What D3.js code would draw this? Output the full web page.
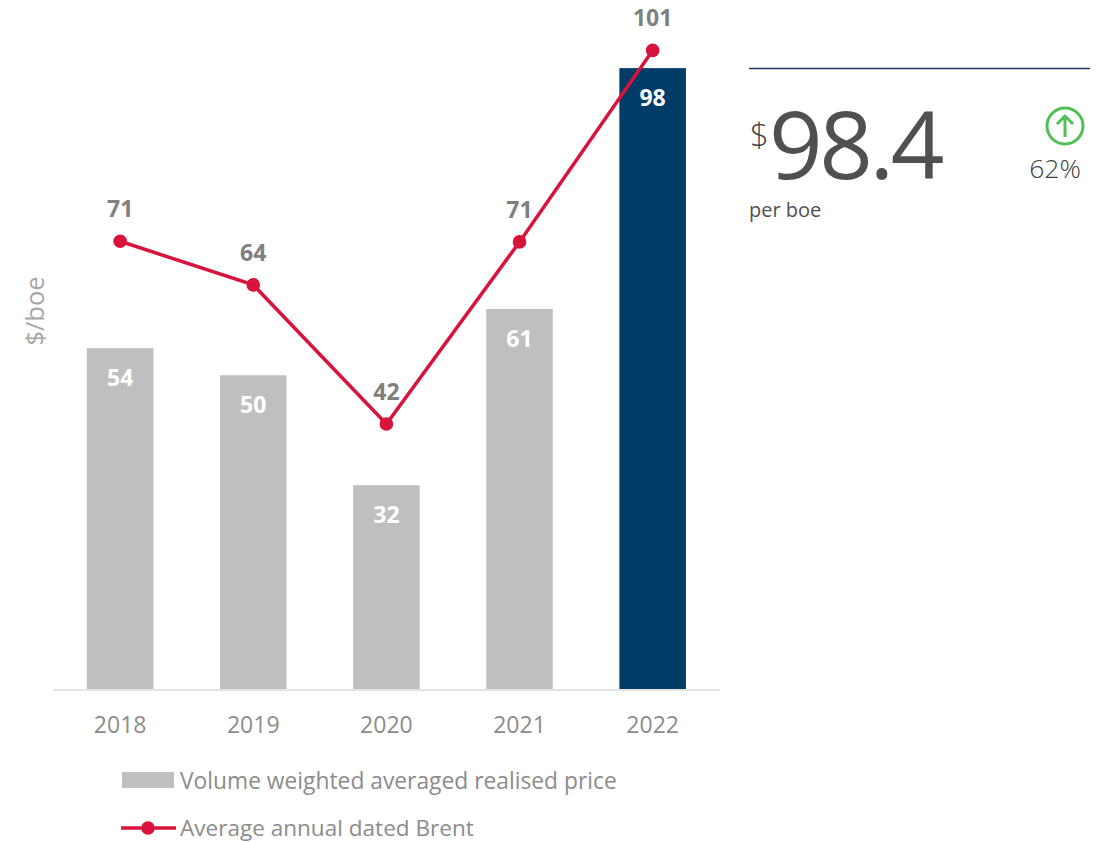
<!DOCTYPE html>
<html><head><meta charset="utf-8">
<script src="https://cdn.jsdelivr.net/npm/d3@7/dist/d3.min.js"></script>
<style>html,body{margin:0;padding:0;background:#fff;overflow:hidden}svg{display:block;font-family:"Open Sans",sans-serif}</style>
</head><body><svg id="c" width="1102" height="842"></svg>
<script>
const years=["2018","2019","2020","2021","2022"];
const realised=[54.1,49.8,32.4,60.3,98.4];
const realisedLabels=["54","50","32","61","98"];
const brent=[71.0,64.1,42.1,70.9,101.2];
const brentLabels=["71","64","42","71","101"];
const svg=d3.select("#c");
const x=d3.scaleBand().domain(years).range([53.6,719.2]).paddingInner(0.5).paddingOuter(0.25);
const y=d3.scaleLinear().domain([0,100]).range([690,58]);
const grey="#7f7f7f",red="#d9143c",barGrey="#bfbfbf",navy="#003c68",legendGrey="#8c8c8c",dark="#505050";
svg.selectAll("rect.bar").data(years).join("rect").attr("class","bar")
 .attr("x",d=>x(d)).attr("width",x.bandwidth()).attr("y",(d,i)=>y(realised[i])).attr("height",(d,i)=>y(0)-y(realised[i]))
 .attr("fill",(d,i)=>i===4?navy:barGrey);
svg.append("line").attr("x1",54).attr("x2",719.5).attr("y1",690).attr("y2",690).attr("stroke","#e3e3e3").attr("stroke-width",2);
const cx=d=>x(d)+x.bandwidth()/2;
svg.append("path").datum(years).attr("fill","none").attr("stroke",red).attr("stroke-width",3.5)
 .attr("d",d3.line().x(cx).y((d,i)=>y(brent[i])));
svg.selectAll("circle.pt").data(years).join("circle").attr("class","pt").attr("cx",cx).attr("cy",(d,i)=>y(brent[i])).attr("r",6.8).attr("fill",red);
svg.selectAll("text.v").data(years).join("text").attr("class","v").attr("x",cx).attr("y",(d,i)=>y(realised[i])+38)
 .attr("text-anchor","middle").attr("fill","#fff").attr("font-weight",700).attr("font-size",23).text((d,i)=>realisedLabels[i]);
svg.selectAll("text.b").data(years).join("text").attr("class","b").attr("x",cx).attr("y",(d,i)=>y(brent[i])-24)
 .attr("text-anchor","middle").attr("fill",grey).attr("font-weight",700).attr("font-size",23).text((d,i)=>brentLabels[i]);
svg.selectAll("text.t").data(years).join("text").attr("class","t").attr("x",cx).attr("y",733)
 .attr("text-anchor","middle").attr("fill",legendGrey).attr("font-size",23).text(d=>d);
svg.append("text").attr("transform","translate(44,311) rotate(-90)").attr("text-anchor","middle").attr("fill","#a6a6a6").attr("font-size",25.5).text("$/boe");
svg.append("rect").attr("x",122).attr("y",772).attr("width",52).attr("height",16).attr("fill",barGrey);
svg.append("text").attr("x",180).attr("y",789).attr("fill",legendGrey).attr("font-size",22.8).text("Volume weighted averaged realised price");
svg.append("line").attr("x1",121).attr("x2",176).attr("y1",828).attr("y2",828).attr("stroke",red).attr("stroke-width",3.5);
svg.append("circle").attr("cx",148).attr("cy",828).attr("r",6.8).attr("fill",red);
svg.append("text").attr("x",180).attr("y",836).attr("fill",legendGrey).attr("font-size",22.55).text("Average annual dated Brent");
svg.append("line").attr("x1",749).attr("x2",1090).attr("y1",68.5).attr("y2",68.5).attr("stroke","#1f3864").attr("stroke-width",1.3);
svg.append("text").attr("x",750).attr("y",147).attr("fill","#404040").attr("font-size",33).attr("font-weight",300).text("$");
svg.append("text").attr("x",769).attr("y",179).attr("fill",dark).attr("font-size",94).attr("letter-spacing",-3.5).text("98.4");
svg.append("text").attr("x",749).attr("y",217).attr("fill",dark).attr("font-size",20).text("per boe");
svg.append("text").attr("x",1055).attr("y",178).attr("text-anchor","middle").attr("fill","#404040").attr("font-size",26.5).attr("font-weight",300).text("62%");
const g=svg.append("g").attr("transform","translate(1065,126)").attr("fill","none").attr("stroke","#4fbf56").attr("stroke-width",3);
g.append("circle").attr("r",18);
g.append("path").attr("d","M0,11V-10M-8,-2L0,-10L8,-2");
</script></body></html>
